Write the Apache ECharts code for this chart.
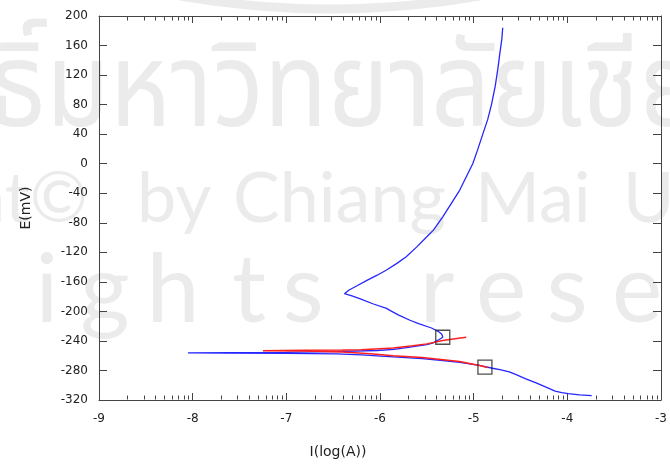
<!DOCTYPE html>
<html>
<head>
<meta charset="utf-8">
<script src="https://cdn.jsdelivr.net/npm/echarts@6/dist/echarts.min.js"></script>
<style>
html,body{margin:0;padding:0;background:#fff;}
#chart{width:670px;height:465px;}
</style>
</head>
<body>
<div id="chart"></div>
<script>
// ---- data ----
const xTicks = [-9, -8, -7, -6, -5, -4, -3];
const yTicks = [-320, -280, -240, -200, -160, -120, -80, -40, 0, 40, 80, 120, 160, 200];

// measured polarization curve (log I, E in mV), in scan order
const measuredCurve = [
  [-3.74, -314], [-3.87, -313], [-3.99, -311.5], [-4.06, -310], [-4.13, -308], [-4.24, -302],
  [-4.34, -296.5], [-4.45, -291], [-4.54, -286], [-4.62, -282], [-4.72, -279],
  [-4.80, -277], [-4.94, -273], [-5.15, -269], [-5.33, -266.5],
  [-5.55, -264], [-5.86, -261.5], [-6.2, -259], [-6.46, -257.5], [-7.0, -256.8],
  [-7.62, -256.4], [-8.05, -256.2],
  [-7.6, -256], [-7.0, -255.5], [-6.5, -254.5], [-6.03, -253], [-5.85, -251.5], [-5.68, -248.5],
  [-5.50, -245], [-5.43, -242.5], [-5.38, -239], [-5.33, -235], [-5.34, -231], [-5.38, -227],
  [-5.45, -222.5], [-5.58, -217], [-5.68, -212], [-5.80, -205], [-5.89, -199], [-5.93, -196],
  [-6.07, -190], [-6.21, -183], [-6.30, -179], [-6.38, -176], [-6.33, -171], [-6.31, -169],
  [-6.24, -165], [-6.14, -158], [-6.03, -151], [-5.93, -144], [-5.82, -135], [-5.72, -126],
  [-5.61, -113], [-5.50, -99], [-5.43, -90], [-5.33, -72], [-5.24, -54], [-5.15, -36],
  [-5.08, -18], [-5.01, 0], [-4.96, 18], [-4.90, 41], [-4.85, 60],
  [-4.81, 80], [-4.77, 105], [-4.74, 130], [-4.72, 150], [-4.70, 168], [-4.69, 184]
];

// fitted curve (red)
const fitCurve = [
  [-4.85, -276], [-4.95, -273], [-5.15, -268], [-5.35, -265], [-5.55, -262.5],
  [-5.86, -260], [-6.1, -257.5], [-6.4, -255], [-6.8, -253.8], [-7.25, -253.2],
  [-6.8, -252.6], [-6.4, -252.2], [-6.2, -251.8], [-5.86, -249.5], [-5.65, -246.5],
  [-5.5, -244], [-5.33, -239.5], [-5.2, -237], [-5.08, -235]
];

// fit points (squares)
const fitPoints = [[-5.33, -235], [-4.88, -275.5]];

// logarithmic minor ticks inside each decade
const minorTicks = [];
for (let d = -9; d < -3; d++) {
  for (let k = 2; k <= 9; k++) minorTicks.push(d + Math.log10(k));
}

// watermark words (background text of the scanned page)
const wmThai = 'ลิขสิทธิ์มหาวิทยาลัยเชียงใหม่';
const wmWords = ['Copyright©', 'by', 'Chiang', 'Mai', 'University'];
const wmLetters = ['i', 'g', 'h', 't', 's', 'r', 'e', 's', 'e', 'r', 'v', 'e', 'd'];

const xMin = xTicks[0], xMax = xTicks[xTicks.length - 1];
const yMin = yTicks[0], yMax = yTicks[yTicks.length - 1];

const axisColor = '#444';
const labelColor = '#222';
const font = 'DejaVu Sans, Verdana, sans-serif';
const wm = '#ebebeb';

// watermark layout
const wordX = [88, 137, 233, 475, 623];
const letterX = [47, 105, 173, 249, 303, 437, 501, 567, 637, 700, 760, 820, 880];
const graphics = [
  {type: 'bezierCurve', silent: true, z: -10,
   shape: {x1: 180, y1: -4, x2: 480, y2: -4, cpx1: 330, cpy1: 22},
   style: {stroke: wm, lineWidth: 9, fill: null}},
  {type: 'text', silent: true, z: -10, x: -250, y: 43, scaleY: 1.13,
   style: {text: wmThai, font: '104px "Noto Sans Thai", "Noto Sans", sans-serif', fill: wm,
           align: 'left', verticalAlign: 'top'}}
];
wmWords.forEach((w, i) => graphics.push({
  type: 'text', silent: true, z: -10, x: wordX[i], y: 199,
  style: {text: w, font: '70px Lato, "Open Sans", sans-serif', fill: wm,
          align: i === 0 ? 'right' : 'left', verticalAlign: 'middle'}
}));
wmLetters.forEach((c, i) => graphics.push({
  type: 'text', silent: true, z: -10, x: letterX[i], y: 291,
  style: {text: c, font: '95px Lato, "Open Sans", sans-serif', fill: wm,
          align: 'center', verticalAlign: 'middle'}
}));

const chart = echarts.init(document.getElementById('chart'), null, {renderer: 'canvas'});

const option = {
  animation: false,
  backgroundColor: '#fff',
  graphic: graphics,
  grid: {left: 99, right: 3, top: 16, bottom: 65, containLabel: false},
  xAxis: [
    {
      type: 'value', min: xMin, max: xMax, interval: 1, position: 'bottom',
      name: 'I(log(A))', nameLocation: 'middle', nameGap: 45,
      nameTextStyle: {fontFamily: font, fontSize: 14, color: labelColor, padding: [0, 84, 0, 0]},
      axisLine: {show: true, onZero: false, lineStyle: {color: axisColor, width: 1}},
      axisTick: {show: true, inside: true, length: 7, lineStyle: {color: axisColor}},
      axisLabel: {show: true, margin: 13, fontFamily: font, fontSize: 12, color: labelColor,
                  showMinLabel: true, showMaxLabel: true},
      splitLine: {show: false}
    },
    {
      type: 'value', min: xMin, max: xMax, interval: 1, position: 'top',
      axisLine: {show: true, onZero: false, lineStyle: {color: axisColor, width: 1}},
      axisTick: {show: true, inside: true, length: 7, lineStyle: {color: axisColor}},
      axisLabel: {show: false}, splitLine: {show: false}
    }
  ],
  yAxis: [
    {
      type: 'value', min: yMin, max: yMax, interval: 40, position: 'left',
      name: 'E(mV)', nameLocation: 'middle', nameGap: 66, nameRotate: 90,
      nameTextStyle: {fontFamily: font, fontSize: 14, color: labelColor},
      axisLine: {show: true, onZero: false, lineStyle: {color: axisColor, width: 1}},
      axisTick: {show: true, inside: true, length: 8, lineStyle: {color: axisColor}},
      axisLabel: {show: true, margin: 11, fontFamily: font, fontSize: 12, color: labelColor,
                  showMinLabel: true, showMaxLabel: true},
      splitLine: {show: false}
    },
    {
      type: 'value', min: yMin, max: yMax, interval: 40, position: 'right',
      axisLine: {show: true, onZero: false, lineStyle: {color: axisColor, width: 1}},
      axisTick: {show: true, inside: true, length: 8, lineStyle: {color: axisColor}},
      axisLabel: {show: false}, splitLine: {show: false}
    }
  ],
  series: [
    {
      name: 'minor ticks', type: 'custom', silent: true, clip: false,
      xAxisIndex: 0, yAxisIndex: 0, z: 1,
      data: minorTicks.map(v => [v, yMin]),
      encode: {x: 0, y: 1},
      renderItem: function (params, api) {
        const v = api.value(0);
        const pb = api.coord([v, yMin]);
        const pt = api.coord([v, yMax]);
        const x = Math.round(pb[0]) + 0.5;
        const yb = Math.round(pb[1]) - 0.5;
        const yt = Math.round(pt[1]) + 0.5;
        const st = {stroke: axisColor, lineWidth: 1};
        return {type: 'group', children: [
          {type: 'line', shape: {x1: x, y1: yb, x2: x, y2: yb - 4}, style: st},
          {type: 'line', shape: {x1: x, y1: yt, x2: x, y2: yt + 4}, style: st}
        ]};
      }
    },
    {
      name: 'measured', type: 'line', data: measuredCurve, showSymbol: false, symbol: 'none',
      smooth: false, lineStyle: {color: '#2626ff', width: 1.3}, z: 3
    },
    {
      name: 'fit', type: 'line', data: fitCurve, showSymbol: false, symbol: 'none',
      smooth: false, lineStyle: {color: '#ff1f1f', width: 1.5}, z: 4
    },
    {
      name: 'fit points', type: 'scatter', data: fitPoints, symbol: 'rect', symbolSize: 14,
      itemStyle: {color: 'rgba(0,0,0,0)', borderColor: '#222', borderWidth: 1.3}, z: 5
    }
  ]
};
chart.setOption(option);
</script>
</body>
</html>
